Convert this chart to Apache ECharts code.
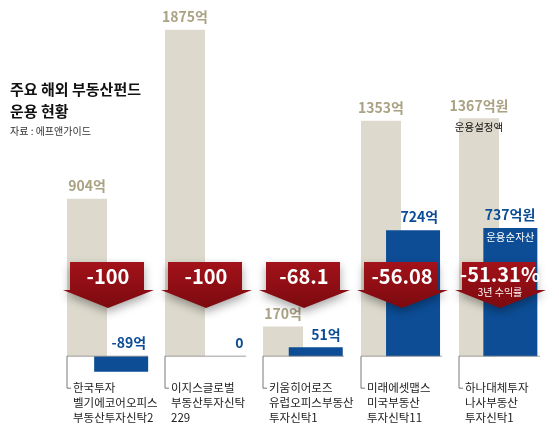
<!DOCTYPE html>
<html><head><meta charset="utf-8">
<script src="https://cdn.jsdelivr.net/npm/echarts@6/dist/echarts.min.js"></script>
<style>html,body{margin:0;padding:0;background:#fff}#c{width:559px;height:447px}</style>
</head><body><div id="c"></div>
<script>
var funds = ['한국투자\n벨기에코어오피스\n부동산투자신탁2', '이지스글로벌\n부동산투자신탁\n229', '키움히어로즈\n유럽오피스부동산\n투자신탁1', '미래에셋맵스\n미국부동산\n투자신탁11', '하나대체투자\n나사부동산\n투자신탁1'];
var setAmount = [904, 1875, 170, 1353, 1367];      // 운용설정액
var netAsset = [-89, 0, 51, 724, 737];             // 운용순자산
var returns = ['-100', '-100', '-68.1', '-56.08', '-51.31%'];
var setLabels = ['904억', '1875억', '170억', '1353억', '1367억원'];
var netLabels = ['-89억', '0', '51억', '724억', '737억원'];

var FONT = 'Noto Sans CJK KR';
var chart = echarts.init(document.getElementById('c'));
var yAx = {type: 'value', min: -200, max: 2000, show: false};
var xAx = {type: 'category', data: funds, show: false};

chart.setOption({
  animation: false,
  grid: [
    {left: 38, top: 8, width: 490, height: 383},
    {left: 72.5, top: 8, width: 490, height: 383}
  ],
  xAxis: [Object.assign({gridIndex: 0}, xAx), Object.assign({gridIndex: 1}, xAx)],
  yAxis: [Object.assign({gridIndex: 0}, yAx), Object.assign({gridIndex: 1}, yAx)],
  series: [
    {type: 'bar', xAxisIndex: 0, yAxisIndex: 0, barWidth: 40, data: setAmount,
     itemStyle: {color: '#dddacd'},
     label: {show: true, position: 'top', distance: 6, fontFamily: FONT, fontSize: 14, fontWeight: 'bold',
             color: '#aaa283', letterSpacing: -1,
             formatter: function (p) { return setLabels[p.dataIndex]; }}},
    {type: 'bar', xAxisIndex: 1, yAxisIndex: 1, barWidth: 54, data: netAsset,
     itemStyle: {color: '#0c4d96'},
     label: {show: true, position: 'top', distance: 6, fontFamily: FONT, fontSize: 14, fontWeight: 'bold',
             color: '#0c4d96', align: 'right', offset: [25, 0], letterSpacing: -0.5,
             formatter: function (p) { return netLabels[p.dataIndex]; }}},
    {type: 'custom', xAxisIndex: 0, yAxisIndex: 0, z: 10, clip: false,
     data: funds.map(function (f, i) { return [i, 0]; }),
     renderItem: function (params, api) {
       var i = api.value(0);
       var base = api.coord([i, 0]);
       var x0 = base[0] - 20, y0 = base[1];
       var cx = x0 + 41;
       var kids = [
         {type: 'line', shape: {x1: x0, y1: y0, x2: x0 + 81, y2: y0}, style: {stroke: '#888', lineWidth: 0.8}},
         {type: 'polyline', shape: {points: [[x0, y0], [x0, y0 + 32], [x0 + 4, y0 + 32]]}, style: {stroke: '#555', lineWidth: 0.8, fill: null}},
         {type: 'text', x: x0 + 6, y: y0 + 24, style: {text: funds[i], fontFamily: FONT, fontSize: 11.5, lineHeight: 15, fill: '#222', letterSpacing: -0.5}},
         {type: 'polygon', shape: {points: [[cx - 38, 262], [cx + 36, 262], [cx + 36, 290], [cx + 46, 290], [cx, 308], [cx - 45, 290], [cx - 38, 290]]},
          style: {fill: new echarts.graphic.LinearGradient(0, 0, 0, 1, [{offset: 0, color: '#a3121a'}, {offset: 1, color: '#7c0a0f'}]),
                  shadowBlur: 10, shadowColor: 'rgba(0,0,0,0.35)', shadowOffsetY: 4}},
         {type: 'text', x: cx, y: i === 4 ? 264 : 266, style: {text: returns[i], fontFamily: FONT, fontSize: 20, fontWeight: 'bold', fill: '#fff', align: 'center', letterSpacing: -1.5}}
       ];
       if (i === 4) {
         kids.push({type: 'text', x: cx, y: 287, style: {text: '3년 수익률', fontFamily: FONT, fontSize: 10, fill: '#fff', align: 'center'}});
       }
       return {type: 'group', children: kids};
     }}
  ]
});

// legend-like notes on the last group, placed through the axes
var pSet = chart.convertToPixel({xAxisIndex: 0, yAxisIndex: 0}, [4, setAmount[4]]);
var pNet = chart.convertToPixel({xAxisIndex: 1, yAxisIndex: 1}, [4, netAsset[4]]);
chart.setOption({
  graphic: [
    {type: 'text', left: 10, top: 78, style: {text: '주요 해외 부동산펀드\n운용 현황', fontFamily: FONT, fontSize: 15, fontWeight: 'bold', fill: '#111', lineHeight: 22}},
    {type: 'text', left: 10, top: 126, style: {text: '자료 : 에프앤가이드', fontFamily: FONT, fontSize: 10, fill: '#333'}},
    {type: 'text', x: pSet[0], y: pSet[1] + 4, z: 20, style: {text: '운용설정액', fontFamily: FONT, fontSize: 10.5, fill: '#111', align: 'center'}},
    {type: 'text', x: pNet[0], y: pNet[1] + 4, z: 20, style: {text: '운용순자산', fontFamily: FONT, fontSize: 10.5, fill: '#fff', align: 'center'}}
  ]
});
</script></body></html>
